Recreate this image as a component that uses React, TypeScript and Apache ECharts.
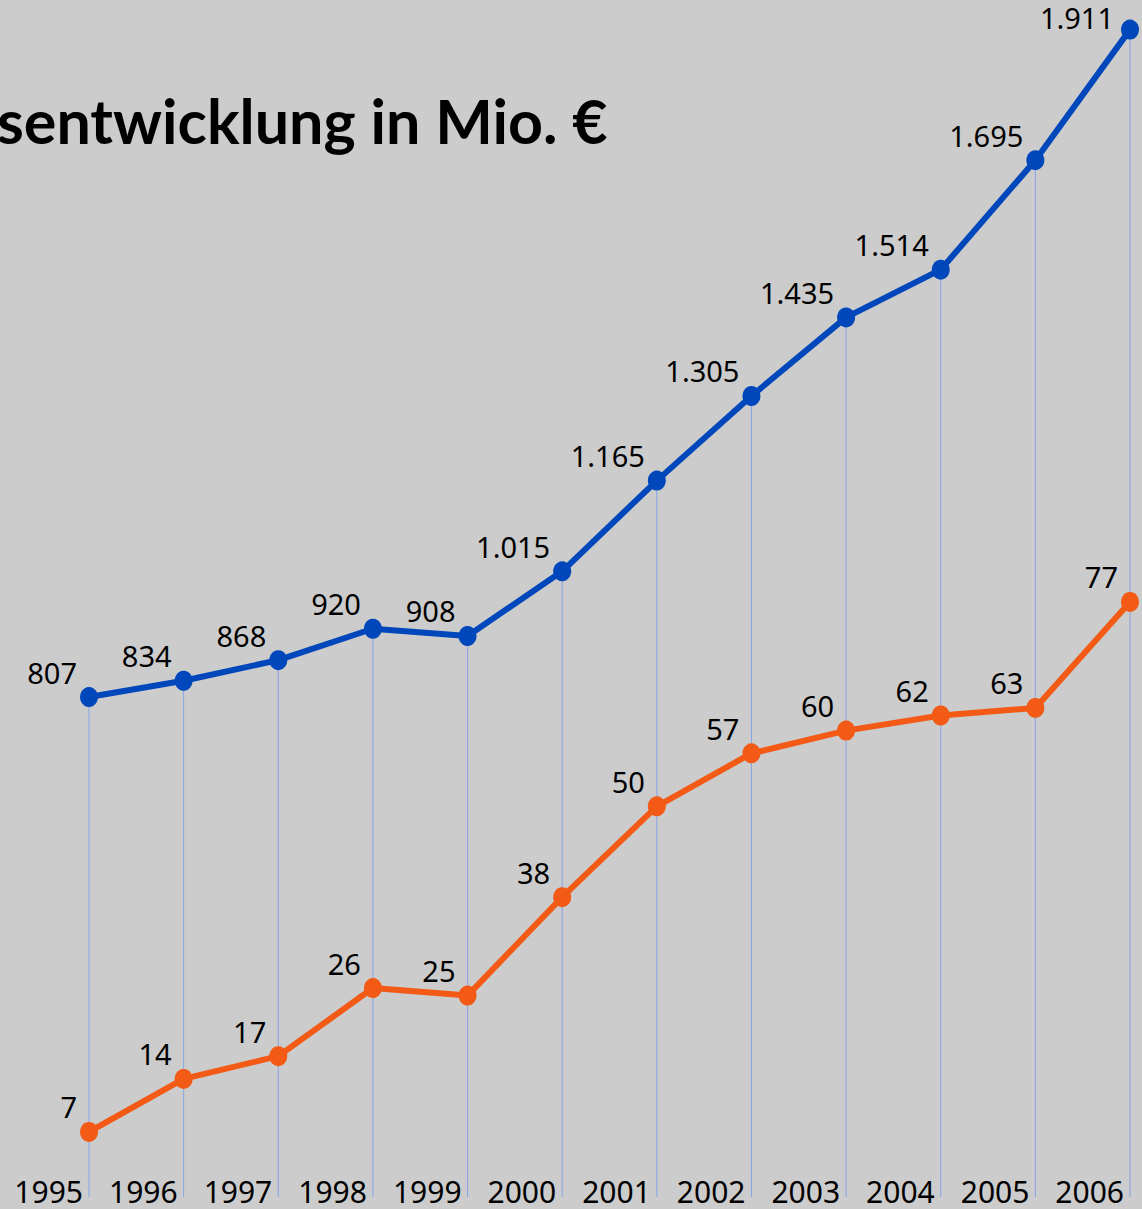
import React, { useEffect, useRef } from "react";
import * as echarts from "echarts";

const years = ["1995", "1996", "1997", "1998", "1999", "2000", "2001", "2002", "2003", "2004", "2005", "2006"];
const blueValues = [807, 834, 868, 920, 908, 1015, 1165, 1305, 1435, 1514, 1695, 1911];
const orangeValues = [7, 14, 17, 26, 25, 38, 50, 57, 60, 62, 63, 77];
const titleText = "sentwicklung in Mio. €";

const fmt = (v: number) => {
  const s = String(v);
  return s.length > 3 ? s.slice(0, s.length - 3) + "." + s.slice(s.length - 3) : s;
};

export default function App() {
  const ref = useRef<HTMLDivElement>(null);
  useEffect(() => {
    if (!ref.current) return;
    const chart = echarts.init(ref.current, null, { renderer: "svg" });
    const font = "'Noto Sans', 'Open Sans', sans-serif";
    const labelCommon = {
      show: true,
      position: "left",
      distance: 3,
      offset: [0, -25],
      fontFamily: font,
      fontSize: 29,
      color: "#000",
      formatter: (p: any) => fmt(p.value),
    };
    const blueData = blueValues.map((v, i) =>
      i === blueValues.length - 1 ? { value: v, label: { offset: [-4, -12] } } : v
    );
    chart.setOption({
      animation: false,
      backgroundColor: "#cccccc",
      grid: { left: 89, right: 12, top: 0, bottom: 12, containLabel: false },
      xAxis: {
        type: "category",
        data: years,
        boundaryGap: false,
        axisLine: { show: false },
        axisTick: { show: false },
        splitLine: { show: false },
        axisLabel: {
          align: "right",
          verticalAlign: "middle",
          margin: -6,
          lineHeight: 28,
          padding: [0, 6, 0, 0],
          fontFamily: font,
          fontSize: 30,
          color: "#000",
        },
      },
      yAxis: [
        { type: "value", min: -20, max: 1960, show: false },
        { type: "value", min: -1.6, max: 156.5, show: false },
      ],
      graphic: [
        {
          type: "text",
          left: -3,
          top: 90,
          style: {
            text: titleText,
            font: "bold 61px Lato, 'Noto Sans', sans-serif",
            fill: "#000",
          },
        },
      ],
      series: [
        {
          type: "custom",
          yAxisIndex: 0,
          data: blueValues.map((v, i) => [i, v]),
          z: 1,
          renderItem: (params: any, api: any) => {
            const top = api.coord([api.value(0), api.value(1)]);
            const bottom = params.coordSys.y + params.coordSys.height;
            return {
              type: "line",
              shape: { x1: top[0], y1: top[1], x2: top[0], y2: bottom },
              style: { stroke: "#86a4e6", lineWidth: 1 },
            };
          },
          encode: { x: 0, y: 1 },
        },
        {
          type: "line",
          yAxisIndex: 0,
          data: blueData,
          z: 3,
          symbol: "circle",
          symbolSize: [18, 20],
          lineStyle: { color: "#0047bb", width: 6 },
          itemStyle: { color: "#0047bb" },
          label: labelCommon,
        },
        {
          type: "line",
          yAxisIndex: 1,
          data: orangeValues,
          z: 3,
          symbol: "circle",
          symbolSize: [18, 20],
          lineStyle: { color: "#f25a16", width: 6 },
          itemStyle: { color: "#f25a16" },
          label: labelCommon,
        },
      ],
    });
    return () => chart.dispose();
  }, []);
  return <div ref={ref} style={{ width: 1142, height: 1209, position: "absolute", left: 0, top: 0 }} />;
}
